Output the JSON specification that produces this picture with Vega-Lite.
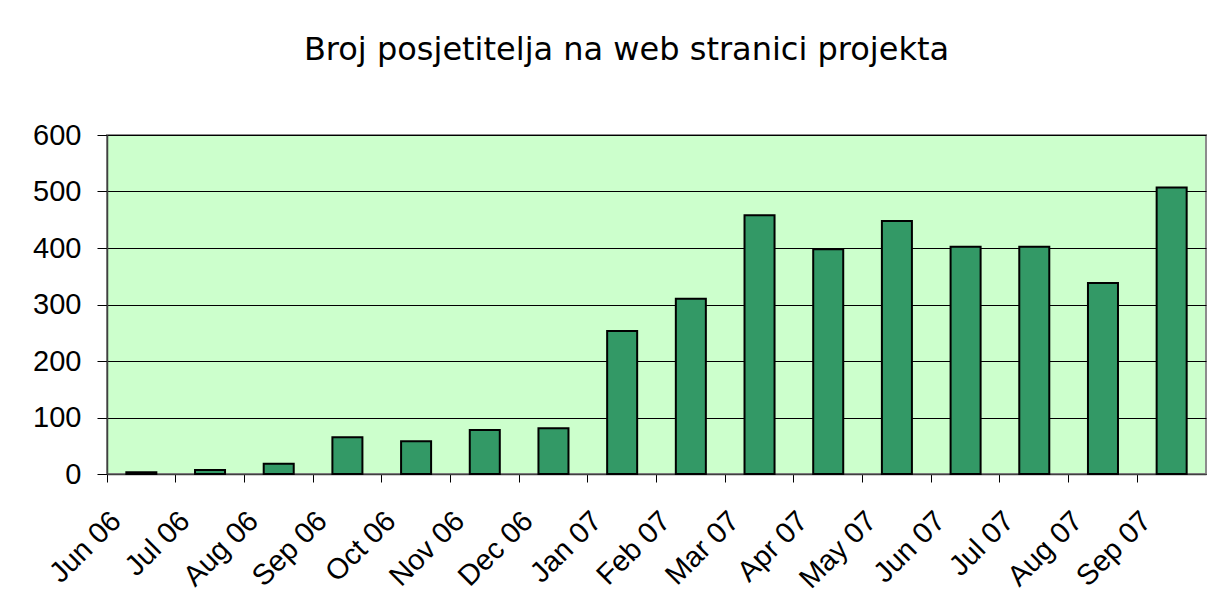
{
  "$schema": "https://vega.github.io/schema/vega-lite/v6.json",
  "autosize": "none",
  "width": 1099,
  "height": 339,
  "padding": {"left": 107, "top": 135, "right": 14, "bottom": 142},
  "background": "white",
  "title": {
    "text": "Broj posjetitelja na web stranici projekta",
    "font": "DejaVu Sans",
    "fontSize": 32,
    "fontWeight": "normal",
    "color": "#000000",
    "anchor": "middle",
    "frame": "group",
    "baseline": "alphabetic",
    "offset": 29,
    "dx": -30
  },
  "data": {
    "values": [
      {"month": "Jun 06", "visitors": 3},
      {"month": "Jul 06", "visitors": 7},
      {"month": "Aug 06", "visitors": 18},
      {"month": "Sep 06", "visitors": 65},
      {"month": "Oct 06", "visitors": 58},
      {"month": "Nov 06", "visitors": 78},
      {"month": "Dec 06", "visitors": 81},
      {"month": "Jan 07", "visitors": 253},
      {"month": "Feb 07", "visitors": 310},
      {"month": "Mar 07", "visitors": 458},
      {"month": "Apr 07", "visitors": 398},
      {"month": "May 07", "visitors": 448},
      {"month": "Jun 07", "visitors": 402},
      {"month": "Jul 07", "visitors": 402},
      {"month": "Aug 07", "visitors": 338},
      {"month": "Sep 07", "visitors": 507}
    ]
  },
  "mark": {"type": "bar", "color": "#339966", "stroke": "#000000", "strokeWidth": 2},
  "encoding": {
    "x": {
      "field": "month",
      "type": "ordinal",
      "sort": null,
      "scale": {"paddingInner": 0.563, "paddingOuter": 0.2815},
      "axis": {
        "title": null,
        "bandPosition": -0.643,
        "labelAngle": -45,
        "labelAlign": "right",
        "labelBaseline": "top",
        "labelFont": "Liberation Sans",
        "labelFontSize": 29,
        "labelColor": "#000000",
        "labelPadding": 24,
        "labelOffset": -35,
        "tickSize": 8,
        "tickColor": "#000000",
        "tickWidth": 1,
        "domainColor": "#404040",
        "domainWidth": 1.5,
        "grid": false
      }
    },
    "y": {
      "field": "visitors",
      "type": "quantitative",
      "scale": {"domain": [0, 600], "nice": false},
      "axis": {
        "title": null,
        "values": [0, 100, 200, 300, 400, 500, 600],
        "labelFont": "Liberation Sans",
        "labelFontSize": 29,
        "labelColor": "#000000",
        "labelPadding": 16,
        "tickSize": 10,
        "tickColor": "#000000",
        "tickWidth": 1,
        "domainColor": "#404040",
        "domainWidth": 1.5,
        "grid": true,
        "gridColor": "#000000",
        "gridWidth": 1
      }
    }
  },
  "config": {
    "view": {"fill": "#ccffcc", "stroke": "#8c8c8c", "strokeWidth": 2}
  }
}
